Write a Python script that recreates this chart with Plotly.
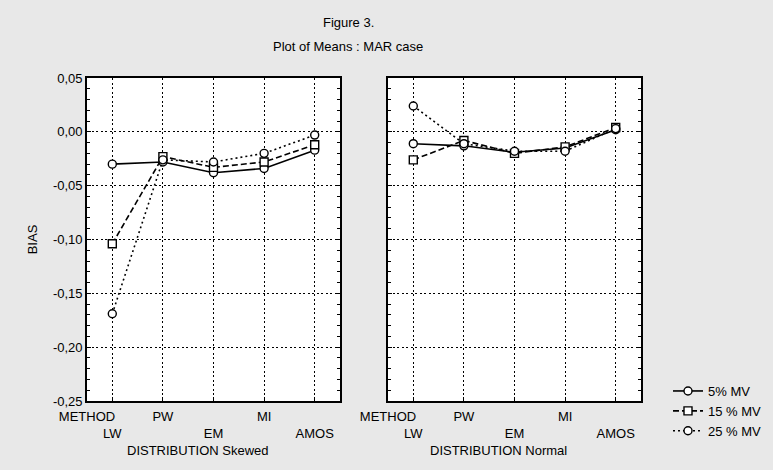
import plotly.graph_objects as go

methods = ["LW", "PW", "EM", "MI", "AMOS"]
method_pos = [0, 1, 2, 3, 4]
series_names = ["5% MV", "15 % MV", "25 % MV"]

skewed_5 = [-0.030, -0.028, -0.038, -0.034, -0.017]
skewed_15 = [-0.104, -0.023, -0.033, -0.028, -0.012]
skewed_25 = [-0.169, -0.026, -0.028, -0.020, -0.003]

normal_5 = [-0.011, -0.013, -0.019, -0.015, 0.002]
normal_15 = [-0.026, -0.008, -0.020, -0.014, 0.004]
normal_25 = [0.024, -0.011, -0.018, -0.018, 0.003]

y_ticks = [0.05, 0.00, -0.05, -0.10, -0.15, -0.20, -0.25]
y_ticktext = ["0,05", "0,00", "-0,05", "-0,10", "-0,15", "-0,20", "-0,25"]

x_tickvals = [-0.5] + method_pos
x_ticktext = ["METHOD", "<br>LW", "PW", "<br>EM", "MI", "<br>AMOS"]

# page has an 8px body margin; the figure is drawn inside it
OFF = 8
W, H = 765, 462
FONT = "Liberation Sans, Arial, sans-serif"
BG = "#e8e8e8"

styles = [
    dict(dash="solid", symbol="circle"),
    dict(dash="6px,3px", symbol="square"),
    dict(dash="2px,3px", symbol="circle"),
]

fig = go.Figure()
panels = [("x", "y", [skewed_5, skewed_15, skewed_25], True),
          ("x2", "y2", [normal_5, normal_15, normal_25], False)]
for xa, ya, data, show in panels:
    for name, vals, st in zip(series_names, data, styles):
        fig.add_trace(go.Scatter(
            x=method_pos, y=vals, mode="lines+markers", name=name,
            xaxis=xa, yaxis=ya, showlegend=show,
            line=dict(color="black", width=1.6, dash=st["dash"]),
            marker=dict(symbol=st["symbol"], size=8, color="white",
                        line=dict(color="black", width=1.4)),
        ))

def px_x(p):
    return (p - OFF) / W

def px_y(p):
    return 1 - (p - OFF) / H

ydom = [px_y(401), px_y(78)]

GRID_DASH = "2px,2.5px"

xaxis_common = dict(
    range=[-0.5, 4.5], tickvals=x_tickvals, ticktext=x_ticktext, tickangle=0,
    showgrid=True, gridcolor="black", griddash=GRID_DASH, gridwidth=1.4,
    showline=True, linecolor="black", linewidth=1.6, mirror=True,
    ticks="inside", ticklen=4, tickcolor="black", ticklabelstandoff=3,
    tickfont=dict(family=FONT, size=13, color="black"),
    zeroline=False, automargin=False, fixedrange=True,
)
yaxis_common = dict(
    range=[-0.25, 0.05], tickvals=y_ticks, ticktext=y_ticktext,
    showgrid=True, gridcolor="black", griddash=GRID_DASH, gridwidth=1.4,
    showline=True, linecolor="black", linewidth=1.6, mirror="allticks",
    ticks="inside", ticklen=4, tickcolor="black",
    minor=dict(dtick=0.01, tick0=0, ticks="inside", ticklen=3, tickcolor="black", showgrid=False),
    tickfont=dict(family=FONT, size=13, color="black"),
    zeroline=False, automargin=False, fixedrange=True, domain=ydom,
)

fig.update_layout(
    width=W, height=H,
    margin=dict(l=0, r=0, t=0, b=0),
    paper_bgcolor=BG, plot_bgcolor="white",
    font=dict(family=FONT, size=13, color="black"),
    xaxis=dict(xaxis_common, domain=[px_x(87), px_x(340)], anchor="y"),
    yaxis=dict(yaxis_common, anchor="x",
               title=dict(text="BIAS", standoff=12, font=dict(family=FONT, size=13))),
    xaxis2=dict(xaxis_common, domain=[px_x(388), px_x(641)], anchor="y2"),
    yaxis2=dict(yaxis_common, anchor="x2", showticklabels=False),
    legend=dict(x=px_x(668), y=px_y(376), xanchor="left", yanchor="top",
                bgcolor="rgba(0,0,0,0)", font=dict(family=FONT, size=13),
                itemwidth=30, tracegroupgap=0),
    showlegend=True,
)

fig.add_annotation(text="Figure 3.", xref="paper", yref="paper",
                   x=px_x(348), y=px_y(23), showarrow=False, yanchor="middle",
                   font=dict(family=FONT, size=13))
fig.add_annotation(text="Plot of Means : MAR case", xref="paper", yref="paper",
                   x=px_x(348), y=px_y(47), showarrow=False, yanchor="middle",
                   font=dict(family=FONT, size=13))
fig.add_annotation(text="DISTRIBUTION Skewed", xref="x", yref="paper",
                   x=1.7, y=px_y(450), showarrow=False, yanchor="middle",
                   font=dict(family=FONT, size=13))
fig.add_annotation(text="DISTRIBUTION Normal", xref="x2", yref="paper",
                   x=1.68, y=px_y(450), showarrow=False, yanchor="middle",
                   font=dict(family=FONT, size=13))

fig.write_html("out.html", post_script="document.body.style.background='%s';" % BG)
